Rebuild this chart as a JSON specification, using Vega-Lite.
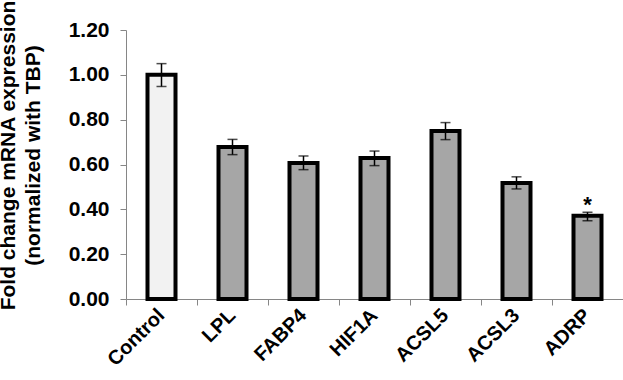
{
  "$schema": "https://vega.github.io/schema/vega-lite/v6.json",
  "autosize": "none",
  "width": 497,
  "height": 269,
  "padding": {"left": 126, "top": 30, "right": 0, "bottom": 81},
  "background": "white",
  "config": {
    "view": {"stroke": null},
    "font": "Liberation Sans"
  },
  "data": {
    "values": [
      {"gene": "Control", "value": 1.0, "lo": 0.948, "hi": 1.05, "group": "control", "sig": ""},
      {"gene": "LPL", "value": 0.678, "lo": 0.644, "hi": 0.712, "group": "treated", "sig": ""},
      {"gene": "FABP4", "value": 0.607, "lo": 0.577, "hi": 0.638, "group": "treated", "sig": ""},
      {"gene": "HIF1A", "value": 0.629, "lo": 0.595, "hi": 0.66, "group": "treated", "sig": ""},
      {"gene": "ACSL5", "value": 0.749, "lo": 0.711, "hi": 0.787, "group": "treated", "sig": ""},
      {"gene": "ACSL3", "value": 0.518, "lo": 0.491, "hi": 0.545, "group": "treated", "sig": ""},
      {"gene": "ADRP", "value": 0.371, "lo": 0.349, "hi": 0.387, "group": "treated", "sig": "*"}
    ]
  },
  "encoding": {
    "x": {
      "field": "gene",
      "type": "nominal",
      "sort": null,
      "scale": {"paddingInner": 0, "paddingOuter": 0},
      "axis": {
        "title": null,
        "labels": false,
        "tickBand": "extent",
        "tickSize": 6,
        "tickColor": "#868686",
        "domainColor": "#868686"
      }
    }
  },
  "layer": [
    {
      "mark": {"type": "bar", "stroke": "black", "strokeWidth": 4, "width": 28},
      "encoding": {
        "y": {
          "field": "value",
          "type": "quantitative",
          "scale": {"domain": [0, 1.2], "nice": false},
          "axis": {
            "values": [0, 0.2, 0.4, 0.6, 0.8, 1.0, 1.2],
            "format": ".2f",
            "grid": false,
            "labelFont": "Liberation Sans",
            "labelFontWeight": "bold",
            "labelFontSize": 21,
            "labelColor": "black",
            "labelPadding": 11,
            "tickSize": 6,
            "tickColor": "#868686",
            "domainColor": "#868686",
            "title": ["Fold change mRNA expression", "(normalized with TBP)"],
            "titleFont": "Liberation Sans",
            "titleFontWeight": "bold",
            "titleFontSize": 21,
            "titleColor": "black",
            "titleLineHeight": 25,
            "titleAngle": -90,
            "titleBaseline": "top",
            "titleAlign": "center",
            "titleX": -129,
            "titleY": 125
          }
        },
        "fill": {
          "field": "group",
          "type": "nominal",
          "scale": {"domain": ["control", "treated"], "range": ["#f2f2f2", "#a6a6a6"]},
          "legend": null
        }
      }
    },
    {
      "mark": {"type": "rule", "color": "black", "strokeWidth": 1.5},
      "encoding": {
        "y": {"field": "lo", "type": "quantitative"},
        "y2": {"field": "hi"}
      }
    },
    {
      "mark": {"type": "tick", "color": "black", "size": 10, "thickness": 1.5},
      "encoding": {"y": {"field": "lo", "type": "quantitative"}}
    },
    {
      "mark": {"type": "tick", "color": "black", "size": 10, "thickness": 1.5},
      "encoding": {"y": {"field": "hi", "type": "quantitative"}}
    },
    {
      "mark": {"type": "text", "font": "Liberation Sans", "fontSize": 22, "fontWeight": "bold", "baseline": "alphabetic", "dy": 0, "color": "black"},
      "encoding": {
        "y": {"field": "hi", "type": "quantitative"},
        "text": {"field": "sig"}
      }
    },
    {
      "mark": {"type": "text", "font": "Liberation Sans", "fontSize": 20, "fontWeight": "bold", "angle": -45, "align": "right", "baseline": "middle", "color": "black"},
      "encoding": {
        "y": {"datum": -0.06},
        "text": {"field": "gene"}
      }
    }
  ]
}
